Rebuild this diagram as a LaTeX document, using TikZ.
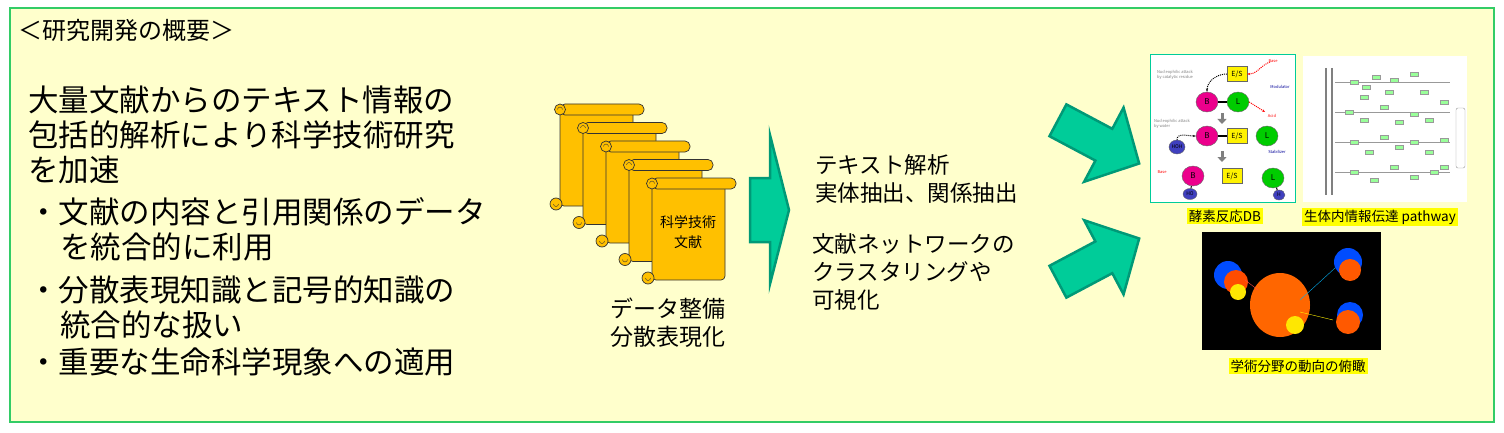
\documentclass[tikz,border=0pt]{standalone}
\usepackage{fontspec}
\setmainfont{Noto Sans CJK JP}
\usetikzlibrary{arrows.meta,shapes.geometric}
\definecolor{bgy}{HTML}{FFFFCC}
\definecolor{frm}{HTML}{33CC66}
\definecolor{scr}{HTML}{FFC000}
\definecolor{arr}{HTML}{00CC99}
\definecolor{arrd}{HTML}{009977}
\definecolor{lab}{HTML}{FFFF00}
\tikzset{
  maintext/.style={anchor=west,font=\fontsize{30.5}{32}\selectfont,inner sep=0},
  midtext/.style={anchor=west,font=\fontsize{22.5}{24}\selectfont,inner sep=0},
  imglabel/.style={fill=lab,font=\fontsize{13.5}{14}\selectfont,inner sep=2pt},
  scrollfill/.style={fill=scr,draw=black!80,line width=0.7pt},
  bigarrow/.style={fill=arr,draw=arrd,line width=2.5pt,line join=miter},
  mol/.style={ellipse,draw=black!60,minimum width=22pt,minimum height=20pt,inner sep=0,font=\fontsize{8}{8}\selectfont},
  esbox/.style={draw=black!60,fill=yellow,minimum width=20pt,minimum height=15pt,inner sep=0,font=\fontsize{7}{7}\selectfont}
}
\begin{document}
\begin{tikzpicture}[x=1pt,y=-1pt]
\useasboundingbox (0,0) rectangle (1504,433);
\fill[white] (0,0) rectangle (1504,433);
\draw[frm,fill=bgy,line width=1.5pt] (10,8) rectangle (1494,422);
\node[anchor=west,inner sep=0,font=\fontsize{24}{26}\selectfont] (title) at (18,30) {＜研究開発の概要＞};
\node[maintext] (t1) at (28,100) {大量文献からのテキスト情報の};
\node[maintext] (t2) at (28,135) {包括的解析により科学技術研究};
\node[maintext] (t3) at (28,170) {を加速};
\node[maintext] (b1) at (28,212) {・文献の内容と引用関係のデータ};
\node[maintext] (b1b) at (60,247) {を統合的に利用};
\node[maintext] (b2) at (28,290) {・分散表現知識と記号的知識の};
\node[maintext] (b2b) at (60,325) {統合的な扱い};
\node[maintext] (b3) at (28,362) {・重要な生命科学現象への適用};
% scrolls
\foreach \i in {0,...,4}{
  \pgfmathsetmacro{\xo}{560+23*\i}
  \pgfmathsetmacro{\yo}{104+18.5*\i}
  \begin{scope}[shift={(\xo,\yo)}]
    \draw[scrollfill,rounded corners=4pt] (0,8) -- (0,102) -- (73,102) -- (73,8);
    \draw[scrollfill,rounded corners=5pt] (0,0) rectangle (84,11);
    \draw[scrollfill] (0,5.5) circle (5.5);
    \draw[black!80] (-2.5,5.5) arc[start angle=180,end angle=360,radius=2.5];
    \draw[scrollfill] (-4,100) circle (6);
    \draw[black!80] (-1.5,100) arc[start angle=0,end angle=180,radius=2.5];
  \end{scope}
}
\node[align=center,font=\fontsize{14}{20}\selectfont,inner sep=0] (doc) at (688,232) {科学技術\\文献};
\node[align=center,font=\fontsize{23}{28}\selectfont,inner sep=0] (prep) at (668,323) {データ整備\\分散表現化};
% main arrow
\draw[bigarrow] (750,178) -- (770,178) -- (770,135) -- (789,210) -- (770,284) -- (770,242) -- (750,242) -- cycle;
\node[midtext] (m1) at (815,165) {テキスト解析};
\node[midtext] (m2) at (815,193) {実体抽出、関係抽出};
\node[midtext] (m3) at (812,244) {文献ネットワークの};
\node[midtext] (m4) at (812,272) {クラスタリングや};
\node[midtext] (m5) at (812,300) {可視化};
% diagonal arrows
\begin{scope}[shift={(1095,140)},rotate=-28]
\draw[bigarrow] (-42,-18) -- (10,-18) -- (10,-42) -- (50,0) -- (10,42) -- (10,18) -- (-42,18) -- cycle;
\end{scope}
\begin{scope}[shift={(1095,262)},rotate=28]
\draw[bigarrow] (-42,-18) -- (10,-18) -- (10,-42) -- (50,0) -- (10,42) -- (10,18) -- (-42,18) -- cycle;
\end{scope}
% enzyme image
\draw[arr,fill=white,line width=1pt] (1150,55) rectangle (1295,202);
\node[esbox] (es1) at (1237,74) {E/S};
\node[mol,fill=magenta] (bb1) at (1207,102) {B};
\node[mol,fill=green!80!black] (l1) at (1238,102) {L};
\draw[line width=1.5pt] (bb1) -- (l1);
\node[esbox] (es2) at (1237,136) {E/S};
\node[mol,fill=magenta] (bb2) at (1207,136) {B};
\draw[line width=1.5pt] (bb2) -- (es2);
\node[mol,fill=green!80!black] (l2) at (1267,136) {L};
\node[mol,fill=blue!50!gray,minimum width=16pt,minimum height=14pt,font=\fontsize{5}{5}\selectfont] (hoh) at (1177,147) {HOH};
\node[mol,fill=magenta] (bb3) at (1193,176) {B};
\node[mol,fill=blue!50!gray,minimum width=14pt,minimum height=11pt,font=\fontsize{5}{5}\selectfont] (ho) at (1190,194) {HO};
\node[esbox] (es3) at (1232,176) {E/S};
\node[mol,fill=green!80!black] (l3) at (1273,178) {L};
\node[mol,fill=blue!50!gray,minimum width=12pt,minimum height=10pt,font=\fontsize{5}{5}\selectfont] (hh) at (1279,195) {H};
\draw[line width=1pt] (bb3) -- (ho); \draw[line width=1pt] (l3) -- (hh);
\draw[gray,line width=3pt,-{Triangle[length=5pt,width=9pt]}] (1222,113) -- (1222,124);
\draw[gray,line width=3pt,-{Triangle[length=5pt,width=9pt]}] (1222,151) -- (1222,162);
\draw[densely dotted,line width=1pt,-{Stealth[length=3pt]}] (es1.west) to[out=180,in=90] (bb1.north);
\draw[densely dotted,line width=1pt,-{Stealth[length=3pt]}] (hoh.north) to[out=90,in=180] (bb2.west);
\draw[densely dotted,red,line width=1pt,-{Stealth[length=3pt]}] (1270,62) to[out=200,in=0] (es1.east);
\draw[densely dotted,red,line width=1pt,-{Stealth[length=3pt]}] (l1.east) -- (1265,112);
\node[font=\fontsize{4}{4}\selectfont,text=red] (base1) at (1273,61) {Base};
\node[font=\fontsize{4}{4}\selectfont,text=blue!60!black] (modu) at (1280,87) {Modulator};
\node[font=\fontsize{4}{4}\selectfont,text=red] (acid) at (1272,116) {Acid};
\node[font=\fontsize{4}{4}\selectfont,text=blue!60!black] (stab) at (1277,152) {Stabilizer};
\node[font=\fontsize{4}{4}\selectfont,text=red] (base2) at (1162,172) {Base};
\node[font=\fontsize{4}{4}\selectfont,text=gray,align=left] (na1) at (1175,75) {Nucleophilic attack\\by catalytic residue};
\node[font=\fontsize{4}{4}\selectfont,text=gray,align=left] (na2) at (1172,124) {Nucleophilic attack\\by water};
\node[imglabel] (lab1) at (1225,216) {酵素反応DB};
% pathway image
\fill[white] (1303,56) rectangle (1467,202);
\draw[gray,line width=1.5pt] (1326,68) -- (1326,195);
\draw[gray,line width=1.5pt] (1332,68) -- (1332,195);
\draw[black!40] (1335,82) -- (1450,82) (1335,112) -- (1450,112) (1335,142) -- (1450,142) (1335,172) -- (1450,172);
\foreach \px/\py in {1350/80,1362/85,1372/75,1390/78,1410/72,1420/90,1345/110,1360/118,1380/105,1395/120,1410/112,1425/118,1440/100,1350/140,1365/150,1380/135,1395/145,1410/140,1425/150,1440/138,1350/170,1370/178,1390/165,1410/175,1430/170,1360/95,1440/165,1385/90}{
  \draw[black!40,fill=green!40] (\px,\py) rectangle ++(8,4);
}
\draw[black!40,rounded corners=2pt] (1456,108) rectangle (1465,168);
\node[imglabel] (lab2) at (1380,217) {生体内情報伝達 pathway};
% cluster image
\fill[black] (1202,232) rectangle (1381,350);
\fill[blue!70!cyan] (1228,275) circle (14);
\fill[orange!60!red] (1236,282) circle (12);
\fill[yellow!90!orange] (1238,292) circle (8);
\fill[orange!80!red] (1280,305) ellipse (30 and 32);
\fill[yellow!90!orange] (1295,325) circle (9);
\fill[blue!70!cyan] (1348,262) circle (14);
\fill[orange!70!red] (1350,270) circle (11);
\fill[blue!70!cyan] (1350,315) circle (13);
\fill[orange!70!red] (1348,322) circle (12);
\draw[cyan] (1300,300) -- (1335,268);
\draw[yellow] (1300,312) -- (1333,320);
\draw[red!70] (1258,290) -- (1245,280);
\node[imglabel] (lab3) at (1298,366) {学術分野の動向の俯瞰};
\end{tikzpicture}
\end{document}
